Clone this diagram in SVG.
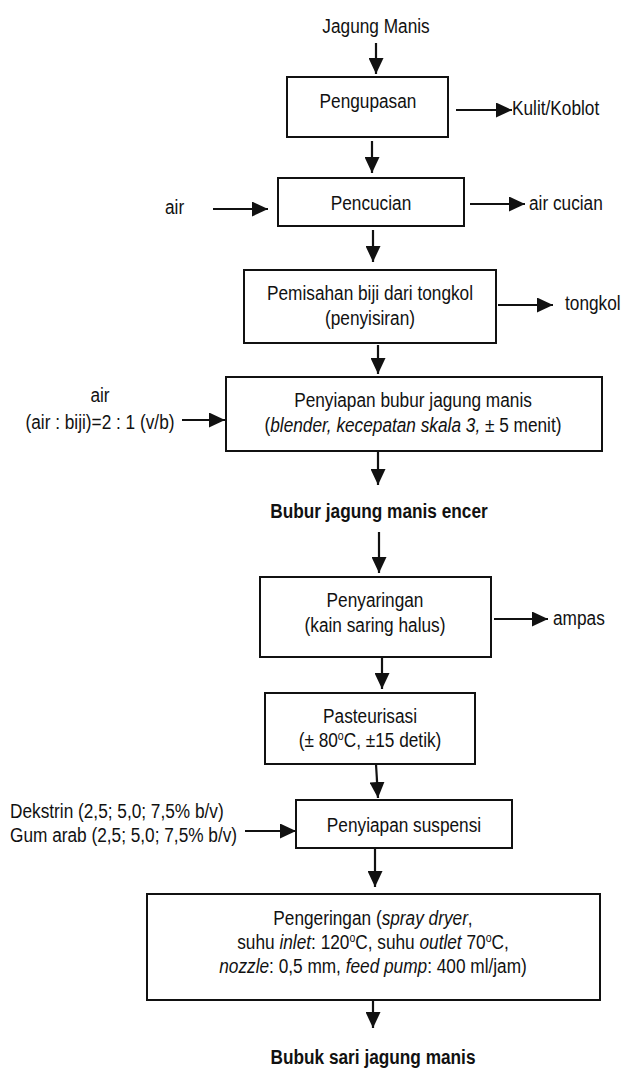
<svg xmlns="http://www.w3.org/2000/svg" width="626" height="1070" viewBox="0 0 626 1070">
<style>
  text { font-family: "Liberation Sans", Arial, sans-serif; font-size: 19.6px; fill: #111; }
  .c { text-anchor: middle; }
  .b { font-weight: bold; }
  .i { font-style: italic; }
  .box { fill: #fff; stroke: #111; stroke-width: 2; }
  .ln { stroke: #111; stroke-width: 2.2; fill: none; marker-end: url(#ah); }
  .sup { font-size: 12px; }
</style>
<defs>
  <marker id="ah" markerUnits="userSpaceOnUse" markerWidth="16" markerHeight="15" refX="16" refY="7.5" orient="auto">
    <path d="M0,0 L16,7.5 L0,15 z" fill="#111"/>
  </marker>
</defs>
<rect width="626" height="1070" fill="#fff"/>

<g id="connectors">
  <line class="ln" x1="376" y1="43" x2="376" y2="74"/>
  <line class="ln" x1="456" y1="110" x2="512" y2="110"/>
  <line class="ln" x1="372" y1="141" x2="372" y2="173"/>
  <line class="ln" x1="213" y1="209" x2="268" y2="209"/>
  <line class="ln" x1="470" y1="204" x2="525" y2="204"/>
  <line class="ln" x1="373" y1="230" x2="373" y2="262"/>
  <line class="ln" x1="498" y1="305" x2="553" y2="305"/>
  <line class="ln" x1="378" y1="345" x2="378" y2="374"/>
  <line class="ln" x1="182" y1="420" x2="225" y2="420"/>
  <line class="ln" x1="378" y1="451" x2="378" y2="485"/>
  <line class="ln" x1="379" y1="532" x2="379" y2="573"/>
  <line class="ln" x1="494" y1="619" x2="548" y2="619"/>
  <line class="ln" x1="382" y1="657" x2="382" y2="689"/>
  <line class="ln" x1="376" y1="764" x2="378" y2="798"/>
  <line class="ln" x1="245" y1="831" x2="296" y2="831"/>
  <line class="ln" x1="375" y1="849" x2="375" y2="887"/>
  <line class="ln" x1="373" y1="1000" x2="373" y2="1028"/>
</g>

<g id="input-jagung"><text class="c" transform="translate(376 33) scale(0.88 1)">Jagung Manis</text></g>

<g id="pengupasan">
  <rect class="box" x="287" y="77" width="161" height="60"/>
  <text class="c" transform="translate(368 108) scale(0.88 1)">Pengupasan</text>
</g>
<g id="out-kulit"><text transform="translate(512 115) scale(0.88 1)">Kulit/Koblot</text></g>

<g id="pencucian">
  <rect class="box" x="278" y="178" width="186" height="48"/>
  <text class="c" transform="translate(371 210) scale(0.88 1)">Pencucian</text>
</g>
<g id="in-air1"><text transform="translate(165 214) scale(0.88 1)">air</text></g>
<g id="out-aircucian"><text transform="translate(529 210) scale(0.88 1)">air cucian</text></g>

<g id="pemisahan">
  <rect class="box" x="244" y="270" width="252" height="73"/>
  <text class="c" transform="translate(370 300) scale(0.88 1)">Pemisahan biji dari tongkol</text>
  <text class="c" transform="translate(370 325) scale(0.88 1)">(penyisiran)</text>
</g>
<g id="out-tongkol"><text transform="translate(565 310) scale(0.88 1)">tongkol</text></g>

<g id="penyiapan-bubur">
  <rect class="box" x="226" y="377" width="376" height="74"/>
  <text class="c" transform="translate(413 407) scale(0.88 1)">Penyiapan bubur jagung manis</text>
  <text class="c" transform="translate(413 432) scale(0.88 1)">(<tspan class="i">blender, kecepatan skala 3,</tspan> ± 5 menit)</text>
</g>
<g id="in-air2">
  <text class="c" transform="translate(100 402) scale(0.88 1)">air</text>
  <text class="c" transform="translate(100 429) scale(0.88 1)">(air : biji)=2 : 1 (v/b)</text>
</g>

<g id="bubur-encer"><text class="c b" transform="translate(379 518) scale(0.88 1)">Bubur jagung manis encer</text></g>

<g id="penyaringan">
  <rect class="box" x="260" y="577" width="231" height="80"/>
  <text class="c" transform="translate(375 607) scale(0.88 1)">Penyaringan</text>
  <text class="c" transform="translate(375 632) scale(0.88 1)">(kain saring halus)</text>
</g>
<g id="out-ampas"><text transform="translate(553 625) scale(0.88 1)">ampas</text></g>

<g id="pasteurisasi">
  <rect class="box" x="265" y="693" width="210" height="71"/>
  <text class="c" transform="translate(370 723) scale(0.88 1)">Pasteurisasi</text>
  <text class="c" transform="translate(370 747) scale(0.88 1)">(± 80<tspan class="sup" dy="-7">o</tspan><tspan dy="7">C, ±15 detik)</tspan></text>
</g>

<g id="penyiapan-suspensi">
  <rect class="box" x="296" y="800" width="216" height="48"/>
  <text class="c" transform="translate(404 832) scale(0.88 1)">Penyiapan suspensi</text>
</g>
<g id="in-bahan">
  <text transform="translate(10 818) scale(0.88 1)">Dekstrin (2,5; 5,0; 7,5% b/v)</text>
  <text transform="translate(10 842) scale(0.88 1)">Gum arab (2,5; 5,0; 7,5% b/v)</text>
</g>

<g id="pengeringan">
  <rect class="box" x="147" y="894" width="453" height="106"/>
  <text class="c" transform="translate(373 925) scale(0.88 1)">Pengeringan (<tspan class="i">spray dryer</tspan>,</text>
  <text class="c" transform="translate(373 949) scale(0.88 1)">suhu <tspan class="i">inlet</tspan>: 120<tspan class="sup" dy="-7">o</tspan><tspan dy="7">C, suhu </tspan><tspan class="i">outlet</tspan> 70<tspan class="sup" dy="-7">o</tspan><tspan dy="7">C,</tspan></text>
  <text class="c" transform="translate(373 973) scale(0.88 1)"><tspan class="i">nozzle</tspan>: 0,5 mm, <tspan class="i">feed pump</tspan>: 400 ml/jam)</text>
</g>

<g id="bubuk"><text class="c b" transform="translate(373 1064) scale(0.88 1)">Bubuk sari jagung manis</text></g>
</svg>
